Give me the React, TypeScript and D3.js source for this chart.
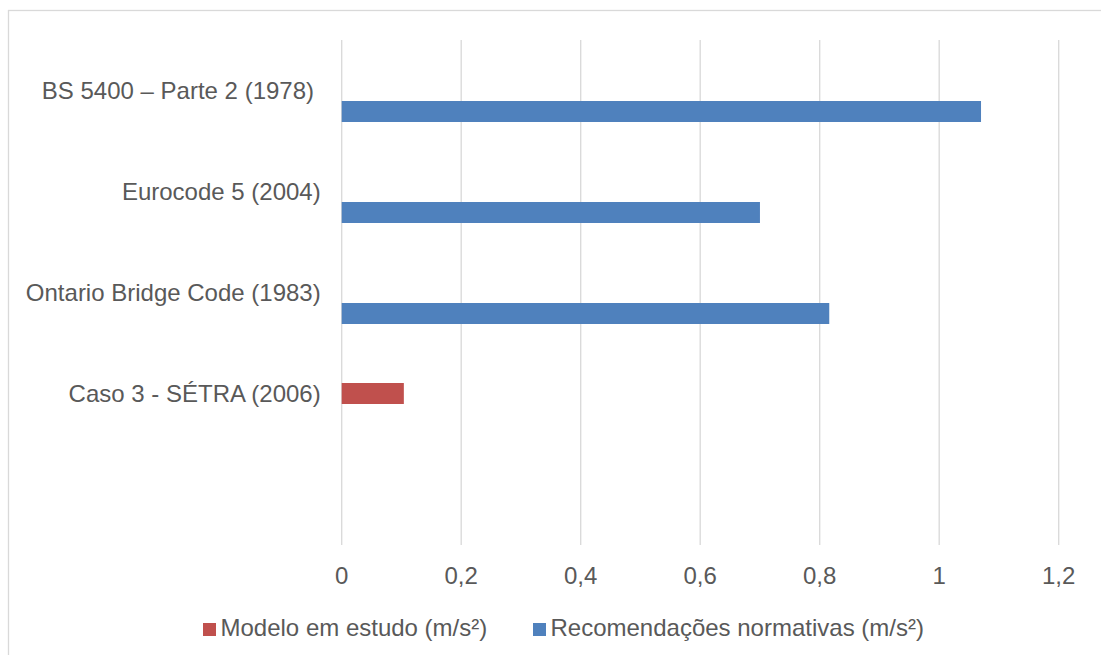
import React from 'react';
import * as d3 from 'd3';

const categories = [
  "BS 5400 – Parte 2 (1978) ",
  "Eurocode 5 (2004)",
  "Ontario Bridge Code (1983)",
  "Caso 3 - SÉTRA (2006)",
  "",
];
const seriesNames = ["Modelo em estudo (m/s²)", "Recomendações normativas (m/s²)"];
const modeloValues: (number | null)[] = [null, null, null, 0.104, null];
const recomendacoesValues: (number | null)[] = [1.07, 0.7, 0.816, null, null];
const xTicks = [0, 0.2, 0.4, 0.6, 0.8, 1, 1.2];
const xTickLabels = ["0", "0,2", "0,4", "0,6", "0,8", "1", "1,2"];
const seriesColors = ["#C0504D", "#4F81BD"];

const W = 1101;
const H = 655;
const FONT = "'Liberation Sans', Arial, sans-serif";
const TEXT = "#595959";
const GRID = "#D9D9D9";

export default function App() {
  const x = d3.scaleLinear().domain([0, 1.2]).range([341.7, 1058.7]);
  const y = d3.scaleBand<string>().domain(categories.map((c, i) => String(i))).range([40, 545]).padding(0);
  const barH = 21;
  const sub = d3.scaleBand<string>().domain(seriesNames).range([-barH / 2, barH * 1.5]).padding(0);
  const seriesValues = [modeloValues, recomendacoesValues];

  const legendX = [203, 533];

  return (
    <svg width={W} height={H} style={{ position: 'absolute', left: 0, top: 0, display: 'block' }} fontFamily={FONT}>
      <rect x={0} y={0} width={W} height={H} fill="#fff" />
      <rect x={8.5} y={10.5} width={1300} height={800} fill="none" stroke={GRID} strokeWidth={1.3} />
      {xTicks.map((t, i) => (
        <g key={i}>
          <line x1={x(t)} x2={x(t)} y1={40} y2={545} stroke={GRID} strokeWidth={1.33} />
          <text x={x(t)} y={584} textAnchor="middle" fontSize={24} fill={TEXT}>{xTickLabels[i]}</text>
        </g>
      ))}
      {categories.map((c, i) => {
        const cy = (y(String(i)) as number) + y.bandwidth() / 2;
        return (
          <g key={i}>
            <text x={320.7} y={cy + 8.6} textAnchor="end" fontSize={24} fill={TEXT} style={{ whiteSpace: 'pre' }}>{c}</text>
            {seriesValues.map((vals, s) => {
              const v = vals[i];
              if (v == null) return null;
              return (
                <rect key={s} x={x(0)} y={cy + (sub(seriesNames[s]) as number)} width={x(v) - x(0)} height={sub.bandwidth()} fill={seriesColors[s]} />
              );
            })}
          </g>
        );
      })}
      {seriesNames.map((n, s) => (
        <g key={s}>
          <rect x={legendX[s]} y={623} width={13} height={13} fill={seriesColors[s]} />
          <text x={legendX[s] + 17.5} y={636} fontSize={24} fill={TEXT}>{n}</text>
        </g>
      ))}
    </svg>
  );
}
